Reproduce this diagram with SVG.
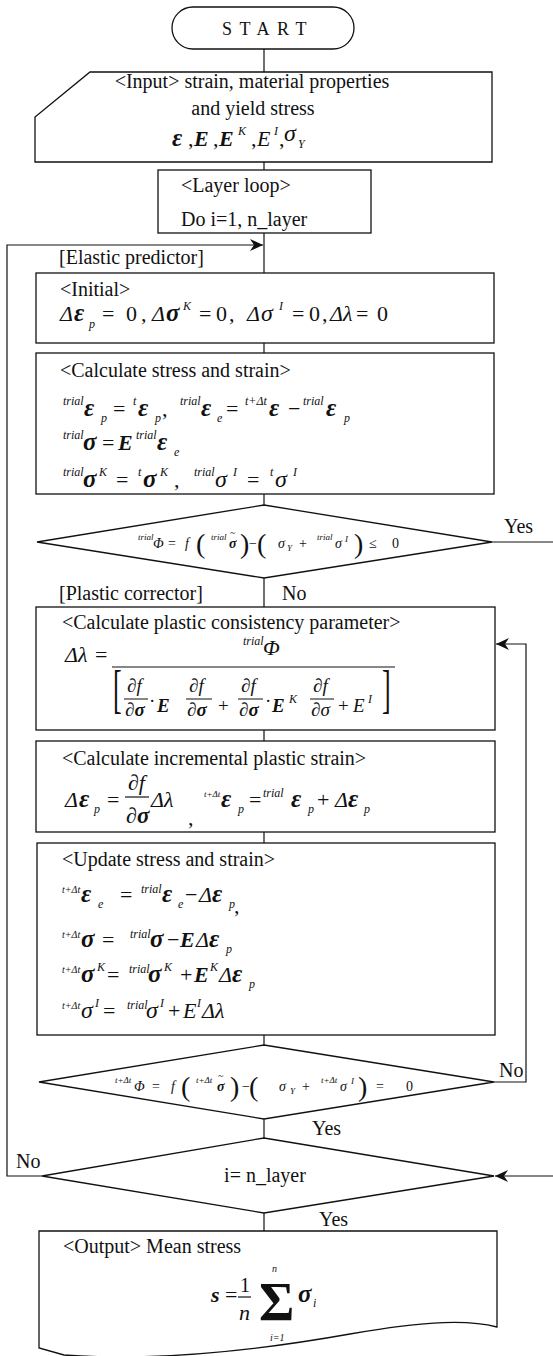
<svg xmlns="http://www.w3.org/2000/svg" width="553" height="1356" viewBox="0 0 553 1356">
<style>
.ln{stroke:#111;stroke-width:1.2;fill:none}
.bx{fill:#fff;stroke:#111;stroke-width:1.3}
.t{font-family:"Liberation Serif",serif;font-size:20px;fill:#111}
.m{font-family:"Liberation Serif",serif;font-size:22px;fill:#111}
.d{font-family:"Liberation Serif",serif;font-size:14px;fill:#111}
.bi{font-style:italic;font-weight:bold}
.it{font-style:italic}
.g{font-style:italic;font-weight:bold;font-size:25px}
.gi{font-style:italic;font-size:24px}
.s{font-size:12px;font-style:italic}
.s10{font-size:10px;font-style:italic}
.xs{font-size:9px;font-style:italic}
.p{font-size:28px}
.tl{font-size:10px}
</style>
<defs>
<marker id="ah" markerUnits="userSpaceOnUse" markerWidth="14" markerHeight="12" refX="13" refY="6" orient="auto">
<path d="M0,0 L13,6 L0,12 L4,6 Z" fill="#111"/>
</marker>
</defs>

<g id="connectors">
<path class="ln" d="M264,49 V72 M264,162 V170 M264,233 V273 M264,343 V353 M264,494 V505 M264,578 V607 M264,730 V741 M264,832 V843 M264,1035 V1045 M264,1119 V1138 M264,1213 V1231"/>
<path class="ln" d="M492,542 H553"/>
<path class="ln" d="M42,1176 H7 V245 H263" marker-end="url(#ah)"/>
<path class="ln" d="M494,1082 H526 V644 H496" marker-end="url(#ah)"/>
<path class="ln" d="M553,1176 H495" marker-end="url(#ah)"/>
<text class="t" x="504" y="533">Yes</text>
<text class="t" x="282" y="600">No</text>
<text class="t" x="499" y="1077">No</text>
<text class="t" x="312" y="1135">Yes</text>
<text class="t" x="16" y="1168">No</text>
<text class="t" x="319" y="1226">Yes</text>
</g>

<g id="start">
<rect class="bx" x="172" y="7" width="182" height="42" rx="21"/>
<text class="t" x="222" y="35" style="font-size:18px" letter-spacing="7.5">START</text>
</g>

<g id="input">
<polygon class="bx" points="90,72 492,72 492,162 35,162 35,117"/>
<text class="t" x="252" y="88" text-anchor="middle">&lt;Input&gt; strain, material properties</text>
<text class="t" x="253" y="115" text-anchor="middle">and yield stress</text>
<text class="m"><tspan class="g" x="172" y="146">ε</tspan><tspan x="188">,</tspan><tspan class="bi" x="194">E</tspan><tspan x="213">,</tspan><tspan class="bi" x="219">E</tspan><tspan class="s" x="238" y="135">K</tspan><tspan x="251" y="146">,</tspan><tspan class="it" x="257">E</tspan><tspan class="s" x="274" y="135">I</tspan><tspan x="279" y="146">,</tspan><tspan class="gi" x="284" y="141">σ</tspan><tspan class="s" x="298" y="148">Y</tspan></text>
</g>

<g id="layer-loop">
<rect class="bx" x="158" y="170" width="213" height="63"/>
<text class="t" x="181" y="192">&lt;Layer loop&gt;</text>
<text class="t" x="181" y="226">Do i=1, n_layer</text>
</g>

<text class="t" x="59" y="264">[Elastic predictor]</text>

<g id="initial">
<rect class="bx" x="36" y="273" width="458" height="70"/>
<text class="t" x="60" y="296">&lt;Initial&gt;</text>
<text class="m"><tspan class="it" x="60" y="321">Δ</tspan><tspan class="g" x="74">ε</tspan><tspan class="s" x="89" y="328">p</tspan><tspan x="102" y="321">=</tspan><tspan x="126">0</tspan><tspan x="141">,</tspan><tspan class="it" x="152">Δ</tspan><tspan class="g" x="166">σ</tspan><tspan class="s" x="183" y="310">K</tspan><tspan x="199" y="321">=</tspan><tspan x="216">0</tspan><tspan x="229">,</tspan><tspan class="it" x="247">Δ</tspan><tspan class="gi" x="261">σ</tspan><tspan class="s" x="279" y="310">I</tspan><tspan x="292" y="321">=</tspan><tspan x="309">0</tspan><tspan x="322">,</tspan><tspan class="it" x="330">Δλ</tspan><tspan x="356">=</tspan><tspan x="377">0</tspan></text>
</g>

<g id="calc-stress">
<rect class="bx" x="36" y="353" width="458" height="141"/>
<text class="t" x="60" y="377">&lt;Calculate stress and strain&gt;</text>
<text class="m"><tspan class="s" x="63" y="405">trial</tspan><tspan class="g" x="84" y="416">ε</tspan><tspan class="s" x="101" y="422">p</tspan><tspan x="113" y="416">=</tspan><tspan class="s" x="133" y="405">t</tspan><tspan class="g" x="138" y="416">ε</tspan><tspan class="s" x="155" y="422">p</tspan><tspan x="162" y="416">,</tspan><tspan class="s" x="180" y="405">trial</tspan><tspan class="g" x="201" y="416">ε</tspan><tspan class="s" x="217" y="422">e</tspan><tspan x="226" y="416">=</tspan><tspan class="s" x="245" y="405">t+Δt</tspan><tspan class="g" x="269" y="416">ε</tspan><tspan x="288">−</tspan><tspan class="s" x="303" y="405">trial</tspan><tspan class="g" x="326" y="416">ε</tspan><tspan class="s" x="344" y="422">p</tspan></text>
<text class="m"><tspan class="s" x="63" y="439">trial</tspan><tspan class="g" x="83" y="450">σ</tspan><tspan x="102">=</tspan><tspan class="bi" x="118">E</tspan><tspan class="s" x="136" y="439">trial</tspan><tspan class="g" x="157" y="450">ε</tspan><tspan class="s" x="174" y="456">e</tspan></text>
<text class="m"><tspan class="s" x="63" y="476">trial</tspan><tspan class="g" x="83" y="487">σ</tspan><tspan class="s" x="99" y="476">K</tspan><tspan x="116" y="487">=</tspan><tspan class="s" x="138" y="476">t</tspan><tspan class="g" x="143" y="487">σ</tspan><tspan class="s" x="160" y="476">K</tspan><tspan x="174" y="487">,</tspan><tspan class="s" x="194" y="476">trial</tspan><tspan class="gi" x="215" y="487">σ</tspan><tspan class="s" x="233" y="476">I</tspan><tspan x="247" y="487">=</tspan><tspan class="s" x="270" y="476">t</tspan><tspan class="gi" x="275" y="487">σ</tspan><tspan class="s" x="293" y="476">I</tspan></text>
</g>

<g id="check-yield">
<polygon class="bx" points="264,505 492,542 264,578 37,542"/>
<text class="d"><tspan class="xs" x="138" y="540">trial</tspan><tspan class="it" x="153" y="548">Φ</tspan><tspan x="168">=</tspan><tspan class="it" x="185">f</tspan><tspan class="p" x="196" y="553">(</tspan><tspan class="xs" x="211" y="540">trial</tspan><tspan class="bi" x="229" y="548">σ</tspan><tspan class="p" x="240" y="553">)</tspan><tspan x="249" y="548">−</tspan><tspan class="p" x="257" y="553">(</tspan><tspan class="it" x="278" y="548">σ</tspan><tspan class="xs" x="287" y="551">Y</tspan><tspan x="299" y="548">+</tspan><tspan class="xs" x="317" y="540">trial</tspan><tspan class="it" x="335" y="548">σ</tspan><tspan class="xs" x="345" y="542">I</tspan><tspan class="p" x="354" y="553">)</tspan><tspan x="369" y="548">≤</tspan><tspan x="392">0</tspan></text>
<text class="d tl" x="230" y="536">~</text>
</g>

<text class="t" x="59" y="600">[Plastic corrector]</text>

<g id="plastic-consistency">
<rect class="bx" x="36" y="607" width="459" height="123"/>
<text class="t" x="62" y="629">&lt;Calculate plastic consistency parameter&gt;</text>
<text class="m"><tspan class="it" x="65" y="662">Δλ</tspan><tspan x="95">=</tspan></text>
<text class="m"><tspan class="s" x="243" y="645">trial</tspan><tspan class="it" x="263" y="655">Φ</tspan></text>
<path class="ln" d="M112,667 H395 M124,699 H148 M186,699 H212 M238,699 H263 M310,699 H334"/>
<text class="m" style="font-size:26px" transform="translate(113,707) scale(1,2.05)">[</text>
<text class="m" style="font-size:26px" transform="translate(382,707) scale(1,2.05)">]</text>
<text class="m" style="font-size:19px"><tspan class="it" x="127" y="692">∂f</tspan><tspan class="it" x="125" y="716">∂</tspan><tspan class="bi">σ</tspan><tspan x="149" y="707">·</tspan><tspan class="bi" x="157" y="712">E</tspan><tspan class="it" x="189" y="692">∂f</tspan><tspan class="it" x="187" y="716">∂</tspan><tspan class="bi">σ</tspan><tspan x="218" y="712">+</tspan><tspan class="it" x="241" y="692">∂f</tspan><tspan class="it" x="239" y="716">∂</tspan><tspan class="bi">σ</tspan><tspan x="265" y="707">·</tspan><tspan class="bi" x="272" y="712">E</tspan><tspan class="s" x="289" y="703">K</tspan><tspan class="it" x="313" y="692">∂f</tspan><tspan class="it" x="311" y="716">∂σ</tspan><tspan x="338" y="712">+</tspan><tspan class="it" x="353">E</tspan><tspan class="s" x="368" y="703">I</tspan></text>
</g>

<g id="incremental-strain">
<rect class="bx" x="36" y="741" width="459" height="91"/>
<text class="t" x="62" y="765">&lt;Calculate incremental plastic strain&gt;</text>
<path class="ln" d="M125,797 H149"/>
<text class="m"><tspan class="it" x="65" y="807">Δ</tspan><tspan class="g" x="79">ε</tspan><tspan class="s" x="94" y="813">p</tspan><tspan x="107" y="807">=</tspan><tspan class="it" x="128" y="790">∂f</tspan><tspan class="it" x="126" y="823">∂</tspan><tspan class="g" style="font-size:23px">σ</tspan><tspan class="it" x="151" y="807">Δλ</tspan><tspan x="188" y="825">,</tspan><tspan class="xs" x="204" y="797">t+Δt</tspan><tspan class="g" x="221" y="807">ε</tspan><tspan class="s" x="238" y="813">p</tspan><tspan x="249" y="807">=</tspan><tspan class="s" x="263" y="797">trial</tspan><tspan class="g" x="291" y="807">ε</tspan><tspan class="s" x="308" y="813">p</tspan><tspan x="317" y="807">+</tspan><tspan class="it" x="335">Δ</tspan><tspan class="g" x="348">ε</tspan><tspan class="s" x="364" y="813">p</tspan></text>
</g>

<g id="update">
<rect class="bx" x="37" y="843" width="458" height="192"/>
<text class="t" x="62" y="866">&lt;Update stress and strain&gt;</text>
<text class="m"><tspan class="s10" x="62" y="893">t+Δt</tspan><tspan class="g" x="81" y="902">ε</tspan><tspan class="s" x="98" y="908">e</tspan><tspan x="120" y="902">=</tspan><tspan class="s" x="141" y="893">trial</tspan><tspan class="g" x="162" y="902">ε</tspan><tspan class="s" x="178" y="908">e</tspan><tspan x="185" y="902">−</tspan><tspan class="it" x="199">Δ</tspan><tspan class="g" x="212">ε</tspan><tspan class="s" x="229" y="908">p</tspan><tspan x="234" y="913">,</tspan></text>
<text class="m"><tspan class="s10" x="62" y="938">t+Δt</tspan><tspan class="g" x="81" y="947">σ</tspan><tspan x="102">=</tspan><tspan class="s" x="130" y="938">trial</tspan><tspan class="g" x="150" y="947">σ</tspan><tspan x="167">−</tspan><tspan class="bi" x="180">E</tspan><tspan class="it" x="196">Δ</tspan><tspan class="g" x="209">ε</tspan><tspan class="s" x="226" y="953">p</tspan></text>
<text class="m"><tspan class="s10" x="62" y="973">t+Δt</tspan><tspan class="g" x="81" y="982">σ</tspan><tspan class="s" x="97" y="971">K</tspan><tspan x="107" y="982">=</tspan><tspan class="s" x="129" y="973">trial</tspan><tspan class="g" x="148" y="982">σ</tspan><tspan class="s" x="164" y="971">K</tspan><tspan x="180" y="982">+</tspan><tspan class="bi" x="194">E</tspan><tspan class="s" x="210" y="971">K</tspan><tspan class="it" x="219" y="982">Δ</tspan><tspan class="g" x="232">ε</tspan><tspan class="s" x="249" y="988">p</tspan></text>
<text class="m"><tspan class="s10" x="62" y="1009">t+Δt</tspan><tspan class="gi" x="81" y="1018">σ</tspan><tspan class="s" x="95" y="1007">I</tspan><tspan x="103" y="1018">=</tspan><tspan class="s" x="127" y="1009">trial</tspan><tspan class="gi" x="146" y="1018">σ</tspan><tspan class="s" x="160" y="1007">I</tspan><tspan x="168" y="1018">+</tspan><tspan class="it" x="183">E</tspan><tspan class="s" x="197" y="1007">I</tspan><tspan class="it" x="202" y="1018">Δλ</tspan></text>
</g>

<g id="check-consistency">
<polygon class="bx" points="264,1045 494,1082 264,1119 39,1082"/>
<text class="d"><tspan class="xs" x="115" y="1083">t+Δt</tspan><tspan class="it" x="134" y="1091">Φ</tspan><tspan x="152">=</tspan><tspan class="it" x="171">f</tspan><tspan class="p" x="181" y="1096">(</tspan><tspan class="xs" x="196" y="1083">t+Δt</tspan><tspan class="bi" x="217" y="1091">σ</tspan><tspan class="p" x="230" y="1096">)</tspan><tspan x="242" y="1091">−</tspan><tspan class="p" x="249" y="1096">(</tspan><tspan class="it" x="279" y="1091">σ</tspan><tspan class="xs" x="290" y="1094">Y</tspan><tspan x="302" y="1091">+</tspan><tspan class="xs" x="321" y="1083">t+Δt</tspan><tspan class="it" x="340" y="1091">σ</tspan><tspan class="xs" x="351" y="1084">I</tspan><tspan class="p" x="358" y="1096">)</tspan><tspan x="376" y="1091">=</tspan><tspan x="406">0</tspan></text>
<text class="d tl" x="218" y="1079">~</text>
</g>

<g id="layer-check">
<polygon class="bx" points="264,1138 494,1176 264,1213 42,1176"/>
<text class="t" x="265" y="1182" text-anchor="middle">i= n_layer</text>
</g>

<g id="output">
<path class="bx" d="M39,1231 H497 V1327 C470,1320 430,1320 350,1334 C260,1350 160,1362 64,1355 L39,1348 Z"/>
<text class="t" x="63" y="1253">&lt;Output&gt; Mean stress</text>
<path class="ln" d="M238,1297 H251"/>
<text class="m"><tspan class="bi" x="211" y="1302">s</tspan><tspan x="225">=</tspan><tspan x="240" y="1292" style="font-size:20px">1</tspan><tspan class="it" x="239" y="1320">n</tspan><tspan class="g" x="298" y="1302">σ</tspan><tspan class="s" x="313" y="1307">i</tspan></text>
<text class="m" style="font-size:54px;font-weight:bold" x="259" y="1320">Σ</text>
<text class="m" style="font-size:10px;font-style:italic" x="272" y="1272">n</text>
<text class="m" style="font-size:10px;font-style:italic" x="270" y="1341">i=1</text>
</g>
</svg>
